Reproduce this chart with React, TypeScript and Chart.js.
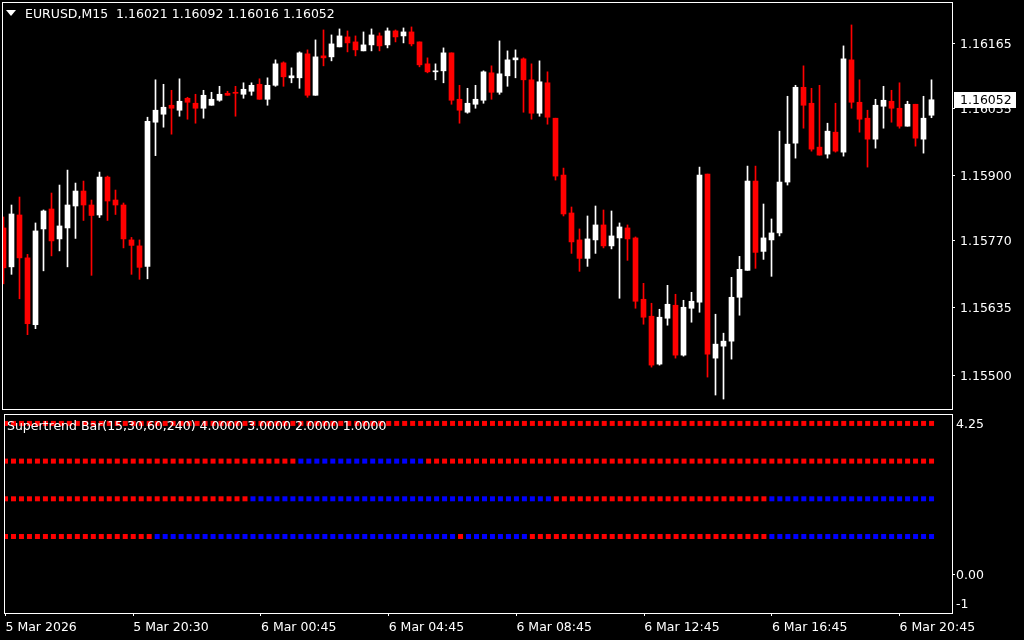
import React, { useEffect, useRef } from 'react';
import { Chart, registerables } from 'chart.js';

Chart.register(...registerables);

// ---------- DATA ----------
const symbolName = 'EURUSD,M15';
const indicatorName = 'Supertrend Bar(15,30,60,240)';

const opens = [
  1.15795, 1.15717, 1.15821, 1.15735, 1.15601, 1.15793, 1.15833, 1.15773, 1.15795, 1.15839,
  1.15869, 1.15841, 1.15821, 1.15897, 1.15851, 1.15841, 1.15771, 1.15759, 1.15718, 1.16007,
  1.16023, 1.16041, 1.16031, 1.16055, 1.16045, 1.16035, 1.16041, 1.16051, 1.16065, 1.16067,
  1.16063, 1.16069, 1.16083, 1.16053, 1.16081, 1.16126, 1.16096, 1.16096, 1.16144, 1.16061,
  1.16140, 1.16138, 1.16158, 1.16178, 1.16168, 1.16150, 1.16162, 1.16180, 1.16162, 1.16190,
  1.16180, 1.16188, 1.16168, 1.16124, 1.16108, 1.16110, 1.16146, 1.16053, 1.16027, 1.16043,
  1.16051, 1.16106, 1.16067, 1.16100, 1.16132, 1.16134, 1.16092, 1.16025, 1.16086, 1.16015,
  1.15901, 1.15825, 1.15771, 1.15734, 1.15771, 1.15801, 1.15759, 1.15775, 1.15795, 1.15775,
  1.15652, 1.15618, 1.15522, 1.15614, 1.15640, 1.15540, 1.15634, 1.15646, 1.15903, 1.15534,
  1.15558, 1.15568, 1.15656, 1.15710, 1.15889, 1.15748, 1.15771, 1.15785, 1.15887, 1.15965,
  1.16077, 1.16045, 1.15957, 1.15943, 1.15987, 1.15947, 1.16132, 1.16047, 1.16015, 1.15973,
  1.16039, 1.16049, 1.16035, 1.15999, 1.16043, 1.15973, 1.16021,
];

const highs = [
  1.15817, 1.15841, 1.15857, 1.15742, 1.15805, 1.15831, 1.15865, 1.15881, 1.15911, 1.15885,
  1.15889, 1.15851, 1.15907, 1.15899, 1.15871, 1.15845, 1.15776, 1.15771, 1.16017, 1.16092,
  1.16083, 1.16071, 1.16094, 1.16057, 1.16063, 1.16071, 1.16067, 1.16079, 1.16069, 1.16079,
  1.16086, 1.16086, 1.16094, 1.16096, 1.16132, 1.16128, 1.16116, 1.16148, 1.16152, 1.16172,
  1.16192, 1.16182, 1.16194, 1.16190, 1.16180, 1.16188, 1.16194, 1.16186, 1.16196, 1.16192,
  1.16196, 1.16198, 1.16168, 1.16136, 1.16124, 1.16156, 1.16146, 1.16081, 1.16075, 1.16081,
  1.16110, 1.16120, 1.16170, 1.16150, 1.16152, 1.16136, 1.16124, 1.16130, 1.16108, 1.16015,
  1.15915, 1.15837, 1.15793, 1.15819, 1.15839, 1.15831, 1.15829, 1.15805, 1.15801, 1.15777,
  1.15684, 1.15644, 1.15632, 1.15680, 1.15662, 1.15650, 1.15666, 1.15917, 1.15903, 1.15622,
  1.15584, 1.15696, 1.15738, 1.15919, 1.15919, 1.15843, 1.15813, 1.15989, 1.16059, 1.16081,
  1.16120, 1.16075, 1.16081, 1.16005, 1.16045, 1.16160, 1.16202, 1.16092, 1.16031, 1.16053,
  1.16079, 1.16071, 1.16086, 1.16049, 1.16043, 1.16059, 1.16092,
];

const lows = [
  1.15683, 1.15702, 1.15653, 1.15581, 1.15593, 1.15709, 1.15739, 1.15749, 1.15717, 1.15774,
  1.15810, 1.15700, 1.15816, 1.15810, 1.15822, 1.15755, 1.15702, 1.15692, 1.15693, 1.15940,
  1.15997, 1.15983, 1.16019, 1.16013, 1.16005, 1.16015, 1.16041, 1.16049, 1.16061, 1.16019,
  1.16055, 1.16061, 1.16053, 1.16041, 1.16079, 1.16079, 1.16086, 1.16075, 1.16057, 1.16061,
  1.16120, 1.16130, 1.16158, 1.16148, 1.16140, 1.16150, 1.16150, 1.16150, 1.16156, 1.16168,
  1.16166, 1.16160, 1.16118, 1.16106, 1.16092, 1.16086, 1.16043, 1.16005, 1.16025, 1.16035,
  1.16045, 1.16053, 1.16063, 1.16079, 1.16096, 1.16027, 1.16013, 1.16019, 1.16003, 1.15891,
  1.15819, 1.15744, 1.15708, 1.15718, 1.15744, 1.15755, 1.15753, 1.15654, 1.15730, 1.15634,
  1.15602, 1.15516, 1.15520, 1.15600, 1.15534, 1.15538, 1.15606, 1.15626, 1.15496, 1.15460,
  1.15452, 1.15532, 1.15620, 1.15710, 1.15714, 1.15732, 1.15698, 1.15779, 1.15881, 1.15935,
  1.15995, 1.15949, 1.15941, 1.15935, 1.15947, 1.15939, 1.16035, 1.15987, 1.15917, 1.15955,
  1.15995, 1.16007, 1.15995, 1.15999, 1.15959, 1.15945, 1.16016,
];

const closes = [
  1.15715, 1.15823, 1.15735, 1.15603, 1.15789, 1.15829, 1.15769, 1.15799, 1.15841, 1.15869,
  1.15841, 1.15820, 1.15897, 1.15849, 1.15841, 1.15773, 1.15760, 1.15716, 1.16009, 1.16031,
  1.16037, 1.16035, 1.16049, 1.16047, 1.16035, 1.16061, 1.16053, 1.16063, 1.16061, 1.16065,
  1.16073, 1.16081, 1.16053, 1.16081, 1.16124, 1.16098, 1.16100, 1.16146, 1.16061, 1.16138,
  1.16136, 1.16164, 1.16180, 1.16166, 1.16152, 1.16162, 1.16182, 1.16160, 1.16190, 1.16178,
  1.16188, 1.16164, 1.16122, 1.16108, 1.16110, 1.16146, 1.16051, 1.16031, 1.16045, 1.16053,
  1.16108, 1.16067, 1.16104, 1.16132, 1.16136, 1.16092, 1.16025, 1.16088, 1.16017, 1.15899,
  1.15823, 1.15767, 1.15734, 1.15773, 1.15801, 1.15759, 1.15779, 1.15797, 1.15773, 1.15648,
  1.15616, 1.15520, 1.15616, 1.15642, 1.15540, 1.15636, 1.15648, 1.15901, 1.15542, 1.15562,
  1.15568, 1.15656, 1.15712, 1.15889, 1.15746, 1.15775, 1.15785, 1.15887, 1.15963, 1.16077,
  1.16041, 1.15953, 1.15941, 1.15989, 1.15949, 1.16134, 1.16047, 1.16013, 1.15973, 1.16041,
  1.16051, 1.16035, 1.15999, 1.16043, 1.15975, 1.16015, 1.16052,
];

const priceTicks = [1.16165, 1.16035, 1.159, 1.1577, 1.15635, 1.155];
const timeTickBars = [0, 16, 32, 48, 64, 80, 96, 112];
const timeTickLabels = [
  '5 Mar 2026', '5 Mar 20:30', '6 Mar 00:45', '6 Mar 04:45',
  '6 Mar 08:45', '6 Mar 12:45', '6 Mar 16:45', '6 Mar 20:45',
];

// Supertrend state per bar: R = down (red), B = up (blue); groups of 10 bars
const levelValues = [4, 3, 2, 1];
const trendRowsText = [
  'RRRRRRRRRR RRRRRRRRRR RRRRRRRRRR RRRRRRRRRR RRRRRRRRRR RRRRRRRRRR RRRRRRRRRR RRRRRRRRRR RRRRRRRRRR RRRRRRRRRR RRRRRRRRRR RRRRRRR',
  'RRRRRRRRRR RRRRRRRRRR RRRRRRRRRR RRRRRRRBBB BBBBBBBBBB BBBRRRRRRR RRRRRRRRRR RRRRRRRRRR RRRRRRRRRR RRRRRRRRRR RRRRRRRRRR RRRRRRR',
  'RRRRRRRRRR RRRRRRRRRR RRRRRRRRRR RBBBBBBBBB BBBBBBBBBB BBBBBBBBBB BBBBBBBBBR RRRRRRRRRR RRRRRRRRRR RRRRRRBBBB BBBBBBBBBB BBBBBBB',
  'RRRRRRRRRR RRRRRRRRRB BBBBBBBBBB BBBBBBBBBB BBBBBBBBBB BBBBBBBRBB BBBBBBRRRR RRRRRRRRRR RRRRRRRRRR RRRRRRBBBB BBBBBBBBBB BBBBBBB',
];
const indicatorTopLabel = '4.25';
const indicatorZeroLabel = '0.00';
const indicatorBottomLabel = '-1';

// ---------- STYLE ----------
const FONT = '"DejaVu Sans", Tahoma, sans-serif';
const FONT_SIZE = 12.5;
const RED = '#ff0000';
const BLUE = '#0000ff';
const WHITE = '#ffffff';
const X_MIN = -0.1875;
const X_MAX = 118.5625;

const fmt5 = (v: number) => v.toFixed(5);

const framePlugin = {
  id: 'frame',
  afterDraw(chart: any) {
    const { ctx, chartArea: a } = chart;
    ctx.save();
    ctx.strokeStyle = WHITE;
    ctx.lineWidth = 1;
    ctx.strokeRect(a.left + 0.5, a.top + 0.5, a.right - a.left, a.bottom - a.top);
    ctx.restore();
  },
};

export default function App() {
  const mainRef = useRef<HTMLCanvasElement | null>(null);
  const indRef = useRef<HTMLCanvasElement | null>(null);

  useEffect(() => {
    document.body.style.margin = '0';
    document.body.style.background = '#000';
    const n = closes.length;
    const idx = closes.map((_, i) => i);
    const candleColors = idx.map((i) => (closes[i] >= opens[i] ? WHITE : RED));
    const last = n - 1;

    const headerPlugin = {
      id: 'header',
      afterDraw(chart: any) {
        const { ctx } = chart;
        ctx.save();
        ctx.fillStyle = WHITE;
        ctx.beginPath();
        ctx.moveTo(6, 10);
        ctx.lineTo(16, 10);
        ctx.lineTo(11, 16);
        ctx.closePath();
        ctx.fill();
        ctx.font = `${FONT_SIZE}px ${FONT}`;
        ctx.textBaseline = 'middle';
        ctx.textAlign = 'left';
        const txt = `${symbolName}  ${fmt5(opens[last])} ${fmt5(highs[last])} ${fmt5(lows[last])} ${fmt5(closes[last])}`;
        ctx.fillText(txt, 25, 15);
        // current price box
        const y = chart.scales.y.getPixelForValue(closes[last]);
        ctx.fillStyle = WHITE;
        ctx.fillRect(954, Math.round(y) - 8, 62, 16);
        ctx.fillStyle = '#000';
        ctx.fillText(fmt5(closes[last]), 960, Math.round(y) + 1);
        ctx.restore();
      },
    };

    const main = new Chart(mainRef.current as HTMLCanvasElement, {
      type: 'bar',
      data: {
        datasets: [
          {
            data: idx.map((i) => ({ x: i, y: [opens[i], closes[i]] })) as any,
            backgroundColor: candleColors,
            barThickness: 5,
            maxBarThickness: 5,
            minBarLength: 1,
            grouped: false,
            borderWidth: 0,
          } as any,
          {
            data: idx.map((i) => ({ x: i, y: [lows[i], highs[i]] })) as any,
            backgroundColor: candleColors,
            barThickness: 1,
            maxBarThickness: 1,
            minBarLength: 1,
            grouped: false,
            borderWidth: 0,
          } as any,
        ],
      },
      plugins: [framePlugin, headerPlugin],
      options: {
        animation: false,
        responsive: false,
        maintainAspectRatio: false,
        devicePixelRatio: 1,
        layout: { padding: { left: 2, top: 2, right: 0, bottom: 1 } },
        plugins: { legend: { display: false }, tooltip: { enabled: false } },
        scales: {
          x: { type: 'linear', display: false, offset: false, min: X_MIN, max: X_MAX, grid: { offset: false } },
          y: {
            type: 'linear',
            position: 'right',
            min: 1.15432,
            max: 1.16248,
            afterFit(s: any) {
              s.width = 72;
              s.paddingTop = 0;
              s.paddingBottom = 0;
            },
            afterBuildTicks(s: any) {
              s.ticks = priceTicks.map((v) => ({ value: v }));
            },
            ticks: {
              color: WHITE,
              font: { family: FONT, size: FONT_SIZE },
              padding: 5,
              labelOffset: 1.5,
              callback: (v: any) => Number(v).toFixed(5),
            },
            grid: { drawOnChartArea: false, drawTicks: true, tickLength: 3, color: WHITE },
            border: { display: false },
          },
        },
      } as any,
    });

    const indLabelPlugin = {
      id: 'indLabels',
      afterDraw(chart: any) {
        const { ctx, chartArea: a } = chart;
        ctx.save();
        ctx.fillStyle = WHITE;
        ctx.font = `${FONT_SIZE}px ${FONT}`;
        ctx.textBaseline = 'middle';
        ctx.textAlign = 'left';
        const vals = levelValues.map((v) => v.toFixed(4)).join(' ');
        ctx.fillText(`${indicatorName} ${vals}`, 7, a.top + 13);
        ctx.fillText(indicatorTopLabel, 956, a.top + 11);
        ctx.fillText(indicatorBottomLabel, 956, a.bottom - 8);
        ctx.restore();
      },
    };

    const ind = new Chart(indRef.current as HTMLCanvasElement, {
      type: 'line',
      data: {
        datasets: levelValues.map((lv, r) => {
          const states = trendRowsText[r].replace(/ /g, '').split('');
          return {
            data: idx.map((i) => ({ x: i, y: lv })),
            showLine: false,
            pointStyle: 'rect',
            pointRadius: 3.5355,
            pointBorderWidth: 0,
            pointBackgroundColor: idx.map((i) => (states[i] === 'B' ? BLUE : RED)),
          } as any;
        }),
      },
      plugins: [framePlugin, indLabelPlugin],
      options: {
        animation: false,
        responsive: false,
        maintainAspectRatio: false,
        devicePixelRatio: 1,
        layout: { padding: { left: 2, top: 2, right: 0, bottom: 0 } },
        plugins: { legend: { display: false }, tooltip: { enabled: false } },
        scales: {
          x: {
            type: 'linear',
            position: 'bottom',
            offset: false,
            min: X_MIN,
            max: X_MAX,
            afterFit(s: any) {
              s.height = 27;
              s.paddingLeft = 0;
              s.paddingRight = 0;
            },
            afterBuildTicks(s: any) {
              s.ticks = timeTickBars.map((v) => ({ value: v }));
            },
            ticks: {
              color: WHITE,
              font: { family: FONT, size: FONT_SIZE },
              align: 'start',
              autoSkip: false,
              maxRotation: 0,
              minRotation: 0,
              padding: 4,
              callback: (_v: any, i: number) => timeTickLabels[i],
            },
            grid: { drawOnChartArea: false, drawTicks: true, tickLength: 3, color: WHITE },
            border: { display: false },
          },
          y: {
            type: 'linear',
            position: 'right',
            min: -1.03,
            max: 4.25,
            afterFit(s: any) {
              s.width = 72;
              s.paddingTop = 0;
              s.paddingBottom = 0;
            },
            afterBuildTicks(s: any) {
              s.ticks = [{ value: 0 }];
            },
            ticks: {
              color: WHITE,
              font: { family: FONT, size: FONT_SIZE },
              padding: 1,
              labelOffset: 2,
              callback: () => indicatorZeroLabel,
            },
            grid: { drawOnChartArea: false, drawTicks: true, tickLength: 3, color: WHITE },
            border: { display: false },
          },
        },
      } as any,
    });

    return () => {
      main.destroy();
      ind.destroy();
    };
  }, []);

  return (
    <div style={{ position: 'fixed', left: 0, top: 0, width: 1024, height: 640, background: '#000', overflow: 'hidden' }}>
      <canvas ref={mainRef} width={1024} height={410} style={{ position: 'absolute', left: 0, top: 0, width: 1024, height: 410 }} />
      <canvas ref={indRef} width={1024} height={230} style={{ position: 'absolute', left: 0, top: 410, width: 1024, height: 230 }} />
    </div>
  );
}
